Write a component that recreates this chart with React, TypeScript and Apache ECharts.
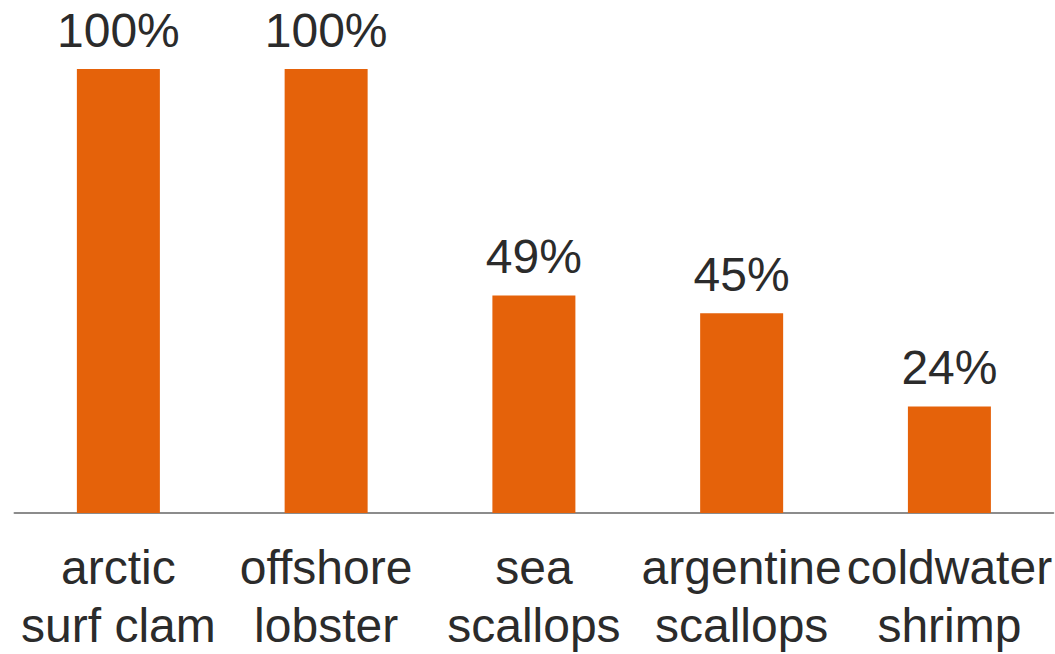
import React, { useEffect, useRef } from "react";
import * as echarts from "echarts";

const categories = ["arctic\nsurf clam", "offshore\nlobster", "sea\nscallops", "argentine\nscallops", "coldwater\nshrimp"];
const values = [100, 100, 49, 45, 24];

export default function App() {
  const ref = useRef<HTMLDivElement>(null);
  useEffect(() => {
    const chart = echarts.init(ref.current!, null, { renderer: "svg" });
    chart.setOption({
      animation: false,
      grid: { left: 14.5, right: 0.5, top: 69, bottom: 139, containLabel: false },
      xAxis: {
        type: "category",
        data: categories,
        axisLine: { show: true, lineStyle: { color: "#8c8c8c", width: 2 } },
        axisTick: { show: false },
        axisLabel: {
          interval: 0,
          margin: 25,
          color: "#2b2b2b",
          fontFamily: "Liberation Sans, Arial, sans-serif",
          fontSize: 48,
          lineHeight: 58,
        },
      },
      yAxis: {
        type: "value",
        min: 0,
        max: 100,
        show: false,
        splitLine: { show: false },
      },
      series: [
        {
          type: "bar",
          data: values,
          barWidth: 83,
          itemStyle: { color: "#E5620A" },
          label: {
            show: true,
            position: "top",
            distance: 15,
            formatter: "{c}%",
            color: "#2b2b2b",
            fontFamily: "Liberation Sans, Arial, sans-serif",
            fontSize: 48,
          },
        },
      ],
    });
    return () => chart.dispose();
  }, []);
  return <div ref={ref} style={{ position: "absolute", left: 0, top: 0, width: 1055, height: 654 }} />;
}
